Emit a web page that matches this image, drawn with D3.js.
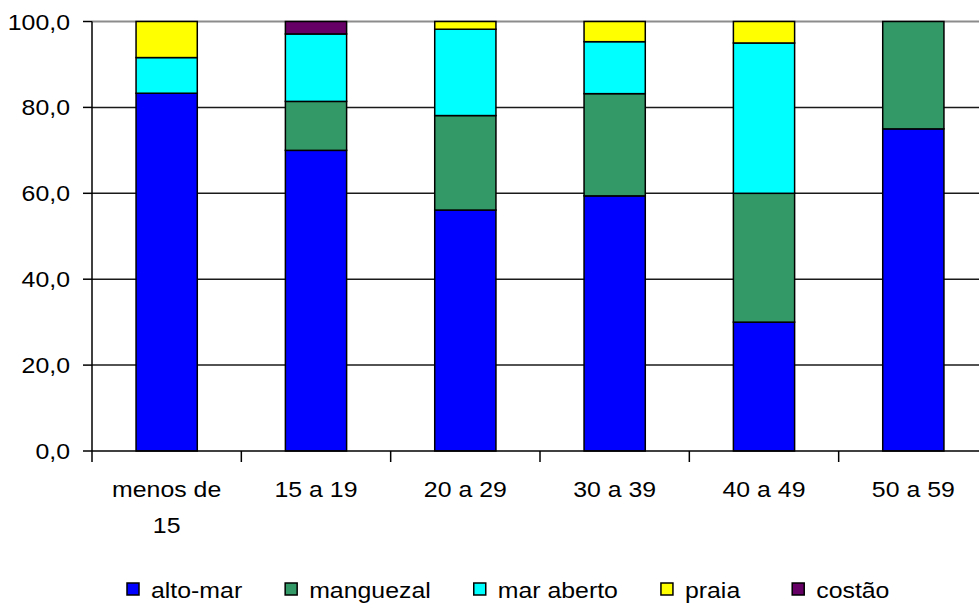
<!DOCTYPE html>
<html><head><meta charset="utf-8">
<script src="https://cdn.jsdelivr.net/npm/d3@7"></script>
<style>body{margin:0;background:#fff}svg{display:block}text{font-family:"Liberation Sans",Arial,sans-serif;fill:#000}</style>
</head><body>
<svg id="c" width="979" height="603"></svg>
<script>
const categories = ["menos de 15", "15 a 19", "20 a 29", "30 a 39", "40 a 49", "50 a 59"];
const seriesNames = ["alto-mar", "manguezal", "mar aberto", "praia", "costão"];
const altoMar   = [83.3, 70.0, 56.1, 59.4, 30.0, 75.0];
const manguezal = [0.0, 11.4, 22.0, 23.8, 30.0, 25.0];
const marAberto = [8.3, 15.7, 20.1, 12.1, 35.0, 0.0];
const praia     = [8.4, 0.0, 1.8, 4.7, 5.0, 0.0];
const costao    = [0.0, 2.9, 0.0, 0.0, 0.0, 0.0];
const yTicks = [0, 20, 40, 60, 80, 100];
const colors = ["#0000FF", "#339966", "#00FFFF", "#FFFF00", "#660066"];

const seriesVals = [altoMar, manguezal, marAberto, praia, costao];
const rows = categories.map((c, i) => {
  const r = {cat: c};
  seriesNames.forEach((s, j) => r[s] = seriesVals[j][i]);
  return r;
});

const svg = d3.select("#c");
const FS = 22, SX = 1.13;
function txt(g, x, y, s, anchor) {
  return g.append("text").attr("transform", `translate(${x},${y}) scale(${SX},1)`)
    .attr("text-anchor", anchor || "start").style("font-size", FS + "px").text(s);
}

const pLeft = 92, pRight = 988, pTop = 21.5, pBottom = 451;
const x = d3.scaleBand().domain(categories).range([pLeft, pRight]).paddingInner(0.59).paddingOuter(0.295);
const y = d3.scaleLinear().domain([0, 100]).range([pBottom, pTop]);

// gridlines
svg.append("g").selectAll("line").data(yTicks.filter(t => t > 0)).join("line")
  .attr("x1", pLeft).attr("x2", 979).attr("y1", d => y(d)).attr("y2", d => y(d))
  .attr("stroke", d => d === 100 ? "#8c8c8c" : "#1a1a1a").attr("stroke-width", d => d === 100 ? 2 : 1.5);

// bars
const stack = d3.stack().keys(seriesNames)(rows);
stack.forEach((layer, j) => {
  svg.append("g").selectAll("rect").data(layer.filter(d => d[1] - d[0] > 0)).join("rect")
    .attr("x", d => x(d.data.cat)).attr("width", x.bandwidth())
    .attr("y", d => y(d[1])).attr("height", d => y(d[0]) - y(d[1]))
    .attr("fill", colors[j]).attr("stroke", "#000").attr("stroke-width", 1.5);
});

// y axis
const ya = svg.append("g");
ya.append("line").attr("x1", pLeft).attr("x2", pLeft).attr("y1", pTop).attr("y2", pBottom).attr("stroke", "#000").attr("stroke-width", 1.5);
yTicks.forEach(t => {
  ya.append("line").attr("x1", pLeft - 9).attr("x2", pLeft).attr("y1", y(t)).attr("y2", y(t)).attr("stroke", "#000").attr("stroke-width", 1.5);
  txt(ya, 70, y(t) + 8, d3.format(".1f")(t).replace(".", ","), "end");
});

// x axis
const xa = svg.append("g");
xa.append("line").attr("x1", pLeft).attr("x2", 979).attr("y1", pBottom).attr("y2", pBottom).attr("stroke", "#000").attr("stroke-width", 1.5);
const step = x.step();
d3.range(categories.length + 1).forEach(i => {
  const xx = pLeft + i * step;
  xa.append("line").attr("x1", xx).attr("x2", xx).attr("y1", pBottom).attr("y2", pBottom + 11).attr("stroke", "#000").attr("stroke-width", 1.5);
});
categories.forEach(c => {
  const cx = x(c) + x.bandwidth() / 2;
  let lines = [c];
  if (c.length > 8) { const k = c.lastIndexOf(" "); lines = [c.slice(0, k), c.slice(k + 1)]; }
  lines.forEach((l, k) => txt(xa, cx, 497 + k * 35.5, l, "middle"));
});

// legend
const lg = svg.append("g");
let lx = 127;
seriesNames.forEach((s, j) => {
  lg.append("rect").attr("x", lx).attr("y", 583).attr("width", 12).attr("height", 12)
    .attr("fill", colors[j]).attr("stroke", "#000").attr("stroke-width", 1.5);
  const t = txt(lg, lx + 24, 598, s);
  const w = t.node().getComputedTextLength() * SX;
  lx += 24 + w + (j === 3 ? 52 : 43);
});
</script>
</body></html>
